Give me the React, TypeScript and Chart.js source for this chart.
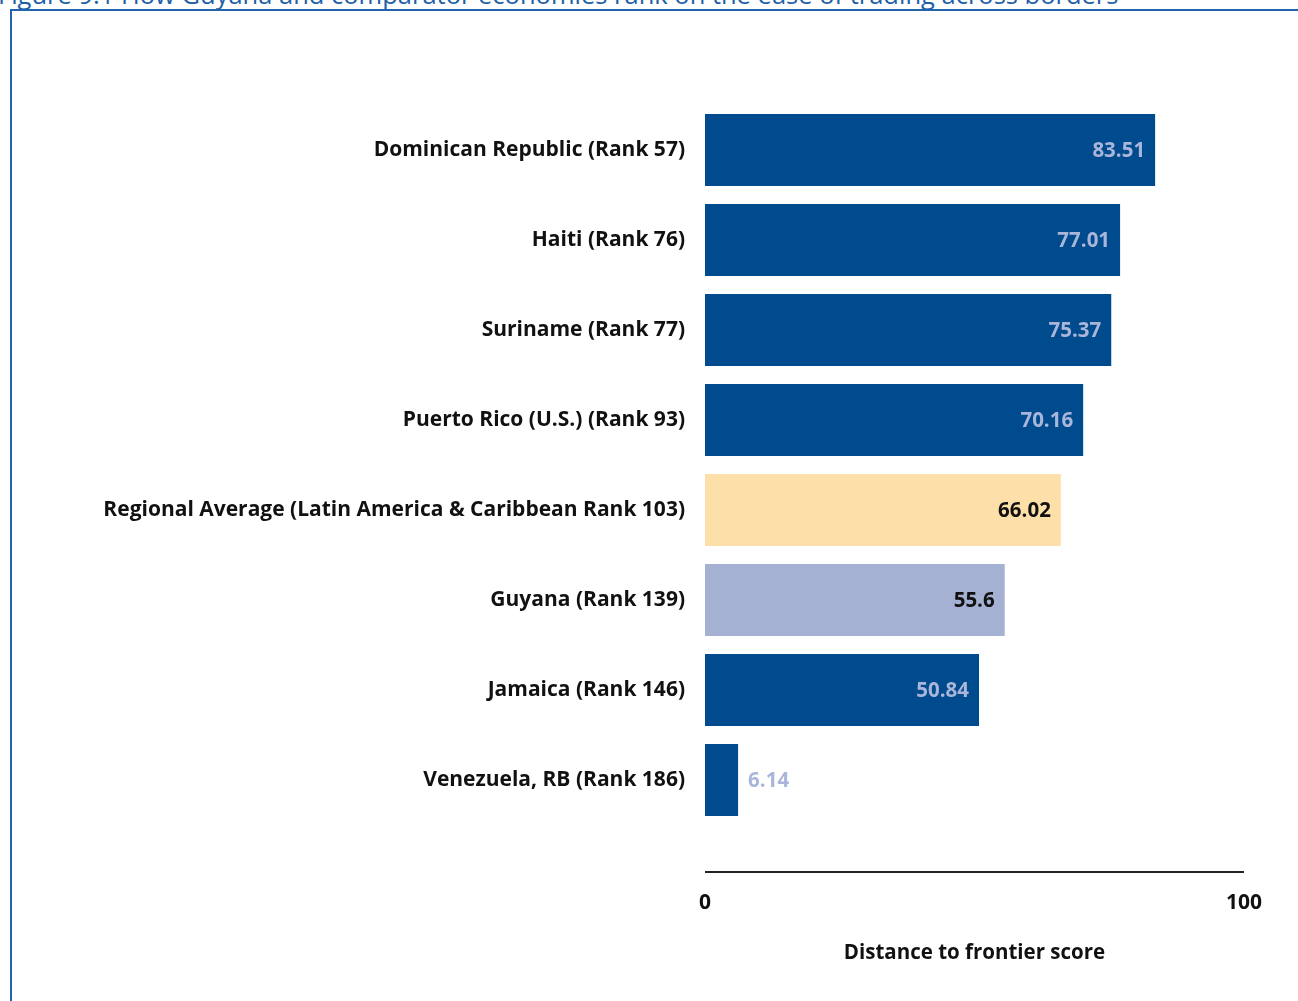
import React, { useEffect, useRef } from "react";
import { Chart, registerables } from "chart.js";

Chart.register(...registerables);

const categories = [
  "Dominican Republic (Rank 57)",
  "Haiti (Rank 76)",
  "Suriname (Rank 77)",
  "Puerto Rico (U.S.) (Rank 93)",
  "Regional Average (Latin America & Caribbean Rank 103)",
  "Guyana (Rank 139)",
  "Jamaica (Rank 146)",
  "Venezuela, RB (Rank 186)",
];
const scores = [83.51, 77.01, 75.37, 70.16, 66.02, 55.6, 50.84, 6.14];
const scoreLabels = ["83.51", "77.01", "75.37", "70.16", "66.02", "55.6", "50.84", "6.14"];
const barColors = ["#004b8d", "#004b8d", "#004b8d", "#004b8d", "#fde0a9", "#a5b1d3", "#004b8d", "#004b8d"];
const labelColors = ["#a9b6da", "#a9b6da", "#a9b6da", "#a9b6da", "#111111", "#111111", "#a9b6da", "#a9b6da"];
const xTickValues = [0, 100];
const xTitle = "Distance to frontier score";
const figureTitle = "Figure 9.1 How Guyana and comparator economies rank on the ease of trading across borders";

const FONT = "'Open Sans', 'Noto Sans', sans-serif";

export default function App() {
  const ref = useRef<HTMLCanvasElement | null>(null);

  useEffect(() => {
    if (!ref.current) return;
    const valueLabels = {
      id: "valueLabels",
      afterDatasetsDraw(chart: any) {
        const ctx = chart.ctx;
        const meta = chart.getDatasetMeta(0);
        ctx.save();
        ctx.font = `bold 20.5px ${FONT}`;
        ctx.textBaseline = "middle";
        meta.data.forEach((bar: any, i: number) => {
          const v = scores[i];
          ctx.fillStyle = labelColors[i];
          if (v > 15) {
            ctx.textAlign = "right";
            ctx.fillText(scoreLabels[i], bar.x - 10, bar.y + 1);
          } else {
            ctx.textAlign = "left";
            ctx.fillText(scoreLabels[i], bar.x + 10, bar.y + 1);
          }
        });
        ctx.restore();
      },
    };
    const axisLine = {
      id: "axisLine",
      afterDraw(chart: any) {
        const { ctx, chartArea } = chart;
        const y = chartArea.bottom + 47;
        ctx.save();
        ctx.strokeStyle = "#222222";
        ctx.lineWidth = 2;
        ctx.beginPath();
        ctx.moveTo(chartArea.left, y);
        ctx.lineTo(chartArea.right, y);
        ctx.stroke();
        ctx.restore();
      },
    };
    const chart = new Chart(ref.current, {
      type: "bar",
      data: {
        labels: categories,
        datasets: [
          {
            data: scores,
            backgroundColor: barColors,
            borderWidth: 0,
            barPercentage: 0.8,
            categoryPercentage: 1,
          },
        ],
      },
      options: {
        indexAxis: "y",
        responsive: false,
        animation: false,
        layout: { padding: { top: 105, right: 54, left: 0, bottom: 0 } },
        plugins: {
          legend: { display: false },
          tooltip: { enabled: false },
        },
        scales: {
          x: {
            min: 0,
            max: 100,
            grid: { display: false },
            border: { display: false },
            afterBuildTicks(scale: any) {
              scale.ticks = xTickValues.map((v) => ({ value: v }));
            },
            afterFit(scale: any) {
              scale.height = 176;
              scale.paddingLeft = 0;
              scale.paddingRight = 0;
            },
            ticks: {
              padding: 57,
              color: "#111111",
              font: { family: FONT, size: 21, weight: "bold" },
            },
            title: {
              display: true,
              text: xTitle,
              color: "#111111",
              font: { family: FONT, size: 20.5, weight: "bold" },
              padding: { top: 0, bottom: 36 },
            },
          },
          y: {
            grid: { display: false },
            border: { display: false },
            afterFit(scale: any) {
              scale.width = 705;
            },
            ticks: {
              padding: 12,
              color: "#111111",
              font: { family: FONT, size: 21, weight: "bold" },
            },
          },
        },
      },
      plugins: [valueLabels, axisLine],
    } as any);
    return () => chart.destroy();
  }, []);

  return (
    <div style={{ position: "absolute", left: 0, top: 0, width: 1298, height: 1001, overflow: "hidden", background: "#fff" }}>
      <div
        style={{
          position: "absolute",
          left: -2,
          top: -19,
          whiteSpace: "nowrap",
          fontFamily: FONT,
          fontSize: 25.5,
          color: "#1f5fa8",
          lineHeight: "26px",
        }}
      >
        {figureTitle}
      </div>
      <div
        style={{
          position: "absolute",
          left: 10,
          top: 9,
          width: 1300,
          height: 1000,
          borderTop: "2px solid #2263ad",
          borderLeft: "2px solid #2263ad",
        }}
      />
      <canvas ref={ref} width={1298} height={1001} style={{ position: "absolute", left: 0, top: 0 }} />
    </div>
  );
}
